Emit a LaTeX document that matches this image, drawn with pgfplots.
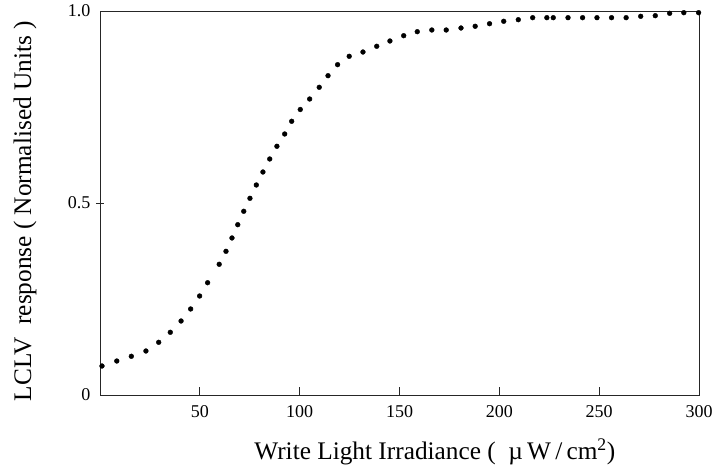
\documentclass[border=0pt]{standalone}
\usepackage{fontspec}
\setmainfont{Liberation Serif}
\usepackage{pgfplots}
\pgfplotsset{compat=1.18}

\begin{document}
\begin{tikzpicture}
\useasboundingbox (-100pt,-75pt) rectangle (612pt,395pt);
\begin{axis}[
    at={(0pt,0pt)}, anchor=south west,
    scale only axis,
    width=599pt, height=384pt,
    xmin=0, xmax=300, ymin=0, ymax=1,
    axis line style={black!85, line width=0.8pt},
    xtick={50,100,...,300},
    ytick={0.5}, yticklabels={0.5},
    extra y ticks={0,1}, extra y tick labels={0,1.0},
    extra y tick style={tick style={draw=none}},
    xtick pos=bottom, ytick pos=left,
    tick align=inside, major tick length=8pt,
    tick style={black!85, line width=0.8pt},
    ytick style={xshift=-4pt},
    /pgf/number format/assume math mode=true,
    tick label style={font=\fontsize{18}{21}\selectfont},
    xticklabel style={anchor=base, yshift=-23pt},
    yticklabel style={xshift=-6pt},
    xlabel={Write Light Irradiance (\enspace µ\,W\,/\,cm\textsuperscript{2})},
    ylabel={LCLV\ \ response (\ Normalised Units\ )},
    label style={font=\fontsize{25.3}{29}\selectfont},
    xlabel style={at={(axis description cs:0.559,0)}, anchor=base, yshift=-65pt},
    ylabel style={at={(axis description cs:-0.115,0.479)}, anchor=base},
]
\addplot[only marks, mark=*, mark size=2.4pt, black] coordinates {
(1.0,0.0755) (8.4,0.0885) (15.7,0.1008) (23.0,0.1146) (29.4,0.1372)
(35.2,0.1633) (40.6,0.1927) (45.4,0.2240) (49.9,0.2578) (53.9,0.2924)
(59.7,0.3404) (63.1,0.3742) (66.1,0.4089) (69.0,0.4435) (72.0,0.4784)
(75.1,0.5122) (78.3,0.5469) (81.6,0.5807) (85.0,0.6146) (88.6,0.6477)
(92.5,0.6797) (96.0,0.7128) (100.3,0.7435) (105.0,0.7708) (109.8,0.8013)
(114.2,0.8315) (119.0,0.8602) (124.8,0.8820) (131.7,0.8932) (138.6,0.9081)
(145.2,0.9219) (152.1,0.9357) (158.9,0.9461) (166.2,0.9505) (173.4,0.9505)
(180.8,0.9557) (187.9,0.9602) (195.1,0.9669) (202.2,0.9732) (209.5,0.9773)
(216.7,0.9826) (223.8,0.9826) (227.0,0.9826) (234.4,0.9826) (241.7,0.9826)
(248.9,0.9826) (256.2,0.9826) (263.5,0.9826) (270.8,0.9862) (278.1,0.9878)
(285.3,0.9940) (292.4,0.9956) (299.8,0.9956)
};
\end{axis}
\end{tikzpicture}
\end{document}
